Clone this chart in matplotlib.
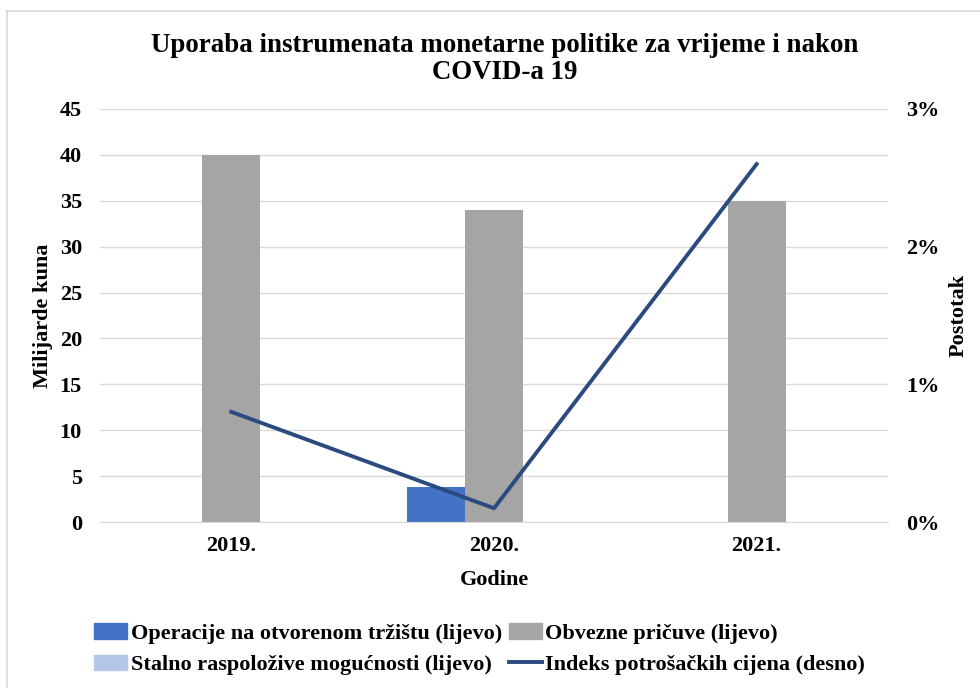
import matplotlib.pyplot as plt
from matplotlib.lines import Line2D
from matplotlib.patches import Patch
from matplotlib.ticker import FuncFormatter
import numpy as np

plt.rcParams["font.family"] = ["Liberation Serif", "DejaVu Serif"]
plt.rcParams["font.weight"] = "bold"

years = ["2019.", "2020.", "2021."]
operacije = [0, 3.8, 0]
obvezne = [40, 34, 35]
stalno = [0, 0, 0]
indeks = [0.8, 0.1, 2.6]

c_oper = "#4472C4"
c_obv = "#A5A5A5"
c_stal = "#B4C7E7"
c_line = "#2B4A80"

fs = 16
W, H = 980, 688
fig = plt.figure(figsize=(W / 100, H / 100), dpi=100)
ax = fig.add_axes([100 / W, 1 - 522 / H, 788 / W, 413 / H])
ax2 = ax.twinx()

x = np.arange(len(years))
w = 0.22
ax.bar(x - w, operacije, w, color=c_oper, zorder=2)
ax.bar(x, obvezne, w, color=c_obv, zorder=2)
ax.bar(x + w, stalno, w, color=c_stal, zorder=2)

ax.set_xlim(-0.5, 2.5)
ax.set_ylim(0, 45)
ax.set_yticks(range(0, 46, 5))
ax.grid(axis="y", color="#D9D9D9", lw=1, zorder=0)
ax.set_axisbelow(True)
ax.set_xticks(x)
ax.set_xticklabels(years)

ax2.plot(x, indeks, color=c_line, lw=2.8, zorder=3)
ax2.set_ylim(0, 3)
ax2.set_yticks([0, 1, 2, 3])
ax2.yaxis.set_major_formatter(FuncFormatter(lambda v, p: f"{v:.0f}%"))

for a in (ax, ax2):
    for s in a.spines.values():
        s.set_visible(False)
    a.tick_params(length=0, labelsize=fs)
ax.tick_params(axis="y", pad=13)
ax.tick_params(axis="x", pad=10)
ax2.tick_params(axis="y", pad=13)
ax.spines["bottom"].set_visible(True)
ax.spines["bottom"].set_color("#D9D9D9")

ax.set_xlabel("Godine", fontsize=fs, fontweight="bold")
ax.xaxis.set_label_coords(0.5, -0.117)
ax.set_ylabel("Milijarde kuna", fontsize=fs, fontweight="bold", va="center")
ax.yaxis.set_label_coords(-0.072, 0.5)
ax2.set_ylabel("Postotak", fontsize=fs, fontweight="bold", va="center")
ax2.yaxis.set_label_coords(1.089, 0.5)

fig.text(505 / W, 1 - 59 / H,
         "Uporaba instrumenata monetarne politike za vrijeme i nakon\nCOVID-a 19",
         ha="center", va="center", fontsize=19.4, fontweight="bold", linespacing=1.1)

# order so that rows read like the reference (legend fills column-wise)
handles = [
    Patch(color=c_oper, label="Operacije na otvorenom tržištu (lijevo)"),
    Patch(color=c_stal, label="Stalno raspoložive mogućnosti (lijevo)"),
    Patch(color=c_obv, label="Obvezne pričuve (lijevo)"),
    Line2D([], [], color=c_line, lw=2.8, label="Indeks potrošačkih cijena (desno)"),
]
fig.legend(handles=handles, ncol=2, loc="upper left", bbox_to_anchor=(94 / W, 1 - 623 / H),
           frameon=False, fontsize=fs, handlelength=1.5, handletextpad=0.15,
           columnspacing=0.3, labelspacing=0.5, borderpad=0, borderaxespad=0)

# figure border (top and left edges visible)
fig.add_artist(Line2D([6 / W, 1], [1 - 10.5 / H, 1 - 10.5 / H], color="#D9D9D9", lw=1.2))
fig.add_artist(Line2D([6.5 / W, 6.5 / W], [0, 1 - 10.5 / H], color="#D9D9D9", lw=1.2))

fig.savefig("out.png", dpi=100)
